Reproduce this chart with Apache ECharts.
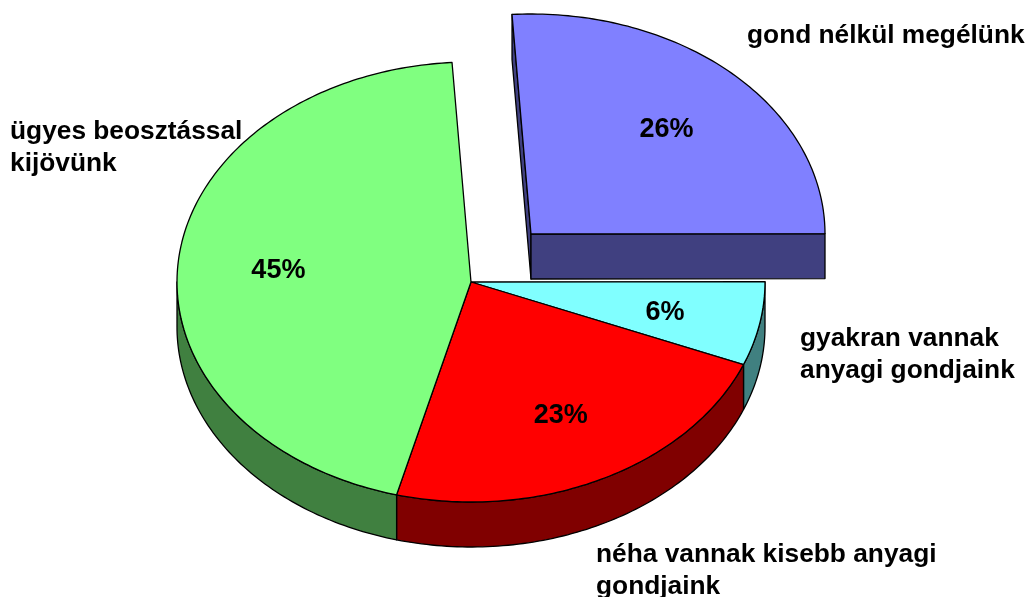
<!DOCTYPE html>
<html><head><meta charset="utf-8">
<style>html,body{margin:0;padding:0;background:#fff}#c{width:1029px;height:597px}</style>
<script src="https://cdn.jsdelivr.net/npm/echarts@6/dist/echarts.min.js"></script>
</head><body><div id="c"></div>
<script>
const categories = ['gond nélkül megélünk', 'gyakran vannak\nanyagi gondjaink', 'néha vannak kisebb anyagi\ngondjaink', 'ügyes beosztással\nkijövünk'];
const values = [26, 6.15, 22.95, 44.9];
const topColors = ['#8080FF', '#80FFFF', '#FF0000', '#80FF80'];
const sideColors = ['#404080', '#408080', '#800000', '#408040'];
const exploded = [true, false, false, false];

const CX = 471, CY = 282, RX = 294, RY = 220, DEPTH = 45;
const EX = 60, EY = -48, START = -3.7;
const NAME_FONT = 'bold 26.3px "Liberation Sans", Arial, sans-serif';
const PCT_FONT = 'bold 27px "Liberation Sans", Arial, sans-serif';
const labelPos = [[747, 36], [800, 354.5], [596, 570.5], [10, 147.5]];

const total = values.reduce((a, b) => a + b, 0);
const rad = d => d * Math.PI / 180;
function pt(cx, cy, t, dy) { return [cx + RX * Math.sin(rad(t)), cy - RY * Math.cos(rad(t)) + (dy || 0)]; }
function arc(cx, cy, a, b, dy) {
  const n = Math.max(2, Math.ceil(Math.abs(b - a)));
  const out = [];
  for (let i = 0; i <= n; i++) out.push(pt(cx, cy, a + (b - a) * i / n, dy));
  return out;
}
const stroke = { stroke: '#000', lineWidth: 1.3, lineJoin: 'round' };
function poly(points, fill, z) {
  return { type: 'polygon', z2: z, shape: { points }, style: Object.assign({ fill }, stroke) };
}
// cumulative slice angles
const spans = []; let acc = START;
values.forEach(v => { const a = acc; acc += v / total * 360; spans.push([a, acc]); });

function renderItem(params, api) {
  const i = params.dataIndex;
  const [a, b] = spans[i];
  const cx = CX + (exploded[i] ? EX : 0), cy = CY + (exploded[i] ? EY : 0);
  const kids = [];
  if (exploded[i]) {
    // radial walls facing the viewer
    const p1 = pt(cx, cy, a), p2 = pt(cx, cy, b);
    kids.push(poly([p1, [cx, cy], [cx, cy + DEPTH], [p1[0], p1[1] + DEPTH]], sideColors[i], 1));
    kids.push(poly([[cx, cy], p2, [p2[0], p2[1] + DEPTH], [cx, cy + DEPTH]], sideColors[i], 1));
  } else {
    // visible outer wall: front half of the ellipse only
    const w1 = Math.max(a, 90), w2 = Math.min(b, 270);
    if (w2 > w1) {
      kids.push(poly(arc(cx, cy, w1, w2, 0).concat(arc(cx, cy, w2, w1, DEPTH)), sideColors[i], 1));
    }
  }
  kids.push(poly([[cx, cy]].concat(arc(cx, cy, a, b, 0)), topColors[i], 2));
  const m = pt(cx, cy, (a + b) / 2);
  const k = 0.665;
  kids.push({
    type: 'text', z2: 3,
    style: { x: cx + (m[0] - cx) * k + 2, y: cy + (m[1] - cy) * k + 2.5, text: Math.round(api.value(0)) + '%', font: PCT_FONT, fill: '#000', align: 'center', verticalAlign: 'middle' }
  });
  return { type: 'group', children: kids };
}

const chart = echarts.init(document.getElementById('c'), null, { renderer: 'canvas' });
chart.setOption({
  animation: false,
  backgroundColor: '#fff',
  graphic: categories.map((c, i) => ({
    type: 'text', z: 10,
    style: { x: labelPos[i][0], y: labelPos[i][1], text: c, font: NAME_FONT, lineHeight: 32, fill: '#000', align: 'left', verticalAlign: 'middle' }
  })),
  series: [{
    type: 'custom',
    coordinateSystem: 'none',
    renderItem,
    silent: true,
    data: values.map(v => [v])
  }]
});
</script></body></html>
